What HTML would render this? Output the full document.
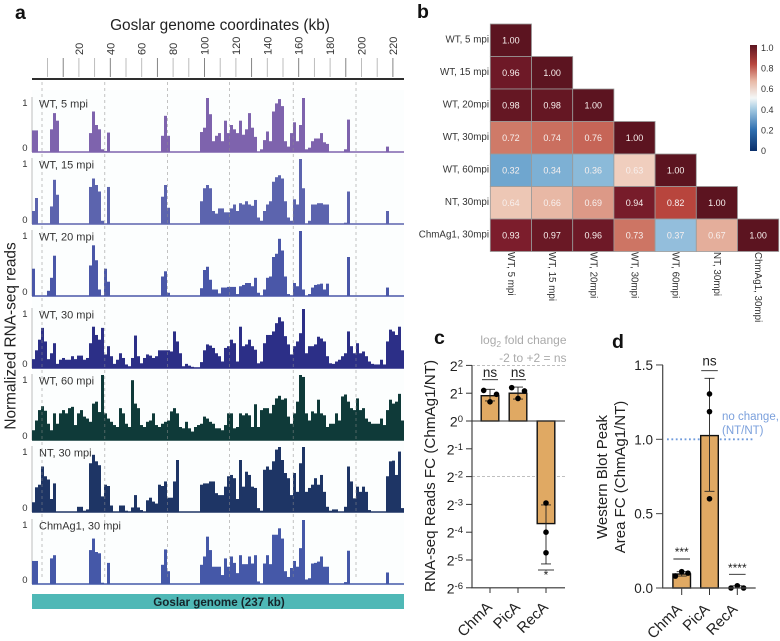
<!DOCTYPE html>
<html>
<head>
<meta charset="utf-8">
<title>Goslar genome RNA-seq figure</title>
<style>
html,body{margin:0;padding:0;background:#fff;width:780px;height:641px;overflow:hidden}
svg{display:block;font-family:"Liberation Sans",Arial,sans-serif;filter:blur(0.3px)}
</style>
</head>
<body>
<svg id="fig" width="780" height="641" viewBox="0 0 780 641" xmlns="http://www.w3.org/2000/svg">
  <rect x="0" y="0" width="780" height="641" fill="#ffffff"/>
  <rect x="32" y="90" width="372" height="496" fill="#fcfefe"/>

  <text x="15" y="19" font-size="19.5" font-weight="bold" fill="#111">a</text>
  <text x="417" y="18" font-size="19.5" font-weight="bold" fill="#111">b</text>
  <text x="434" y="344" font-size="19.5" font-weight="bold" fill="#111">c</text>
  <text x="612" y="348" font-size="19.5" font-weight="bold" fill="#111">d</text>

  <text x="220" y="30" font-size="15.4" text-anchor="middle" fill="#222">Goslar genome coordinates (kb)</text>
  <text transform="translate(15.5,336) rotate(-90)" font-size="15.4" text-anchor="middle" fill="#222">Normalized RNA-seq reads</text>
  <line x1="32" x2="404" y1="79" y2="79" stroke="#111" stroke-width="1.7"/>
  <g id="ruler"></g>
  <g id="tracks"></g>
  <rect x="32" y="594" width="372" height="15" fill="#4fb8b6"/>
  <text x="219" y="606" font-size="11.6" font-weight="bold" text-anchor="middle" fill="#15242a">Goslar genome (237 kb)</text>

  <g id="heatmap"></g>
  <defs>
    <linearGradient id="cbar" x1="0" y1="1" x2="0" y2="0">
      <stop offset="0" stop-color="#0a2f6a"/>
      <stop offset="0.2" stop-color="#2f6fb0"/>
      <stop offset="0.4" stop-color="#a8cde3"/>
      <stop offset="0.5" stop-color="#f4f7f7"/>
      <stop offset="0.66" stop-color="#e8b8a5"/>
      <stop offset="0.82" stop-color="#b8453d"/>
      <stop offset="1" stop-color="#5c1420"/>
    </linearGradient>
  </defs>
  <rect x="750" y="45" width="7" height="106" fill="url(#cbar)"/>
  <g id="colorbar-ticks"></g>

  <text x="566.5" y="344" font-size="12" text-anchor="end" fill="#aaaaaa">log<tspan font-size="8.5" dy="3">2</tspan><tspan dy="-3"> fold change</tspan></text>
  <text x="566.5" y="362" font-size="12" text-anchor="end" fill="#aaaaaa">-2 to +2 = ns</text>
  <text transform="translate(435,476) rotate(-90)" font-size="15.2" text-anchor="middle" fill="#222">RNA-seq Reads FC (ChmAg1/NT)</text>
  <g id="panel-c"></g>

  <text transform="translate(607,477) rotate(-90)" font-size="15" text-anchor="middle" fill="#222">Western Blot Peak</text>
  <text transform="translate(625,477) rotate(-90)" font-size="15" text-anchor="middle" fill="#222">Area FC (ChmAg1/NT)</text>
  <text x="722" y="420" font-size="11.5" fill="#7ba0dc">no change,</text>
  <text x="722" y="434" font-size="11.5" fill="#7ba0dc">(NT/NT)</text>
  <g id="panel-d"></g>
</svg>

<script>
// ---------- Panel a data (percent of max per 3-px genome bin) ----------
const trackNames = ["WT, 5 mpi","WT, 15 mpi","WT, 20 mpi","WT, 30 mpi","WT, 60 mpi","NT, 30 mpi","ChmAg1, 30 mpi"];
const wt5 = [40,40,0,0,0,0,42,72,58,0, 0,0,0,0,0,0,0,0,0,35, 75,50,42,5,2,36,0,0,0,0, 0,0,0,0,0,0,0,0,0,0, 0,0,0,30,67,30,0,0,0,0, 0,0,0,0,0,0,37,45,100,70, 20,30,35,20,58,35,50,42,35,58, 32,42,72,45,28,0,5,22,38,20, 75,90,98,85,20,10,35,55,20,50, 100,5,8,20,25,25,35,18,15,0, 0,0,0,0,5,60,0,0,0,0, 0,0,0,0,0,0,0,0,10,0, 0,0,0,0];
const wt15 = [20,40,0,0,0,0,27,68,45,0, 0,0,0,0,0,0,0,0,0,57, 70,60,50,5,0,57,0,0,0,0, 0,0,0,0,0,0,0,0,0,0, 0,0,0,42,60,25,0,0,0,0, 0,0,0,0,0,0,35,55,60,55, 20,16,24,24,18,18,24,30,20,32, 30,35,30,28,37,10,5,20,30,35, 65,72,75,70,35,10,5,38,30,100, 55,0,5,30,30,32,32,30,30,0, 0,0,0,0,2,50,0,0,0,0, 0,0,0,0,0,0,0,0,20,0, 0,0,0,0];
const wt20 = [42,0,0,0,0,8,28,62,0,0, 0,0,0,0,0,0,0,0,0,47, 78,55,10,0,42,22,0,0,0,0, 0,0,0,0,0,0,0,0,0,0, 0,0,0,30,38,5,0,0,0,0, 0,0,0,0,0,0,12,40,45,25, 10,10,4,13,13,14,14,14,3,15, 17,20,20,15,28,5,0,10,28,30, 60,65,88,70,30,3,0,20,15,100, 10,0,3,13,17,18,19,10,19,0, 0,0,0,0,0,60,0,0,0,0, 0,0,0,0,0,0,0,0,13,0, 0,0,0,0];
const wt30 = [15,30,48,68,45,15,25,42,7,14, 17,14,14,20,15,21,21,14,17,42, 70,56,48,68,23,37,20,7,14,25, 17,6,3,17,55,20,8,17,23,21, 17,20,30,30,30,30,28,62,45,25, 3,7,4,2,1,1,10,30,40,38, 34,25,20,11,34,37,48,42,11,70, 37,40,48,37,31,8,11,42,56,56, 62,76,86,79,54,40,23,37,45,59, 100,25,37,37,40,53,50,45,20,8, 7,11,14,20,25,62,37,25,42,25, 28,20,11,7,6,6,14,6,45,65, 62,56,70,30];
const wt60 = [15,30,46,52,45,25,15,41,25,41, 46,41,49,51,23,41,46,36,33,28, 56,59,43,100,41,33,28,23,20,49, 41,25,20,92,56,49,23,20,28,30, 41,23,20,25,28,30,44,49,41,20, 18,28,18,13,20,23,25,36,33,28, 25,18,18,15,23,41,41,18,20,41, 38,41,38,20,55,20,46,49,49,41, 54,64,68,62,64,36,25,41,59,100, 97,41,30,44,41,62,41,38,20,25, 25,41,30,67,70,59,49,46,64,46, 49,33,28,25,25,25,33,23,46,62, 56,59,71,30];
const nt30 = [15,38,42,70,55,50,20,44,0,0, 0,0,0,0,0,8,8,2,4,75, 88,78,72,24,42,40,10,0,0,10, 10,2,0,7,26,7,3,0,18,22, 16,13,42,40,47,22,22,47,80,0, 0,0,0,0,0,0,42,44,44,47, 47,29,26,26,39,55,57,52,20,80, 39,62,57,39,37,6,2,65,70,65, 78,96,100,80,60,52,26,60,31,75, 100,31,37,42,52,42,57,31,8,2, 4,4,0,0,8,70,47,21,39,31, 39,31,3,0,0,0,0,0,55,78, 79,57,93,6];
const chm30 = [36,36,0,0,0,0,40,45,0,0, 0,0,0,0,0,0,0,0,0,53, 71,50,48,2,0,33,0,0,0,0, 0,0,0,0,0,0,0,0,0,0, 0,0,0,30,54,20,0,0,0,0, 0,0,0,0,0,0,30,43,74,53, 27,27,27,14,40,27,43,33,17,45, 31,31,43,32,45,4,0,32,45,31, 77,77,87,71,20,11,25,36,27,56, 100,7,9,32,33,35,43,27,27,0, 0,0,0,0,3,52,0,0,0,0, 0,0,0,0,0,0,0,0,18,0, 0,0,0,0];
const trackSeries = [wt5,wt15,wt20,wt30,wt60,nt30,chm30];
const rulerTicksKb = [0,10,20,30,40,50,60,70,80,90,100,110,120,130,140,150,160,170,180,190,200,210,220];
const rulerLabelsKb = [20,40,60,80,100,120,140,160,180,200,220];
const guideKb = [-3.5,36.5,76.5,116,156.5,196.5];

// ---------- Panel b data ----------
const heatLabelsRow = ["WT, 5 mpi","WT, 15 mpi","WT, 20mpi","WT, 30mpi","WT, 60mpi","NT, 30mpi","ChmAg1, 30mpi"];
const heatLabelsCol = ["WT, 5 mpi","WT, 15 mpi","WT, 20mpi","WT, 30mpi","WT, 60mpi","NT, 30mpi","ChmAg1, 30mpi"];
const heatValues = [
  [1.00],
  [0.96,1.00],
  [0.98,0.98,1.00],
  [0.72,0.74,0.76,1.00],
  [0.32,0.34,0.36,0.63,1.00],
  [0.64,0.66,0.69,0.94,0.82,1.00],
  [0.93,0.97,0.96,0.73,0.37,0.67,1.00]
];
const colorbarTicks = [1.0,0.8,0.6,0.4,0.2,0];
const colorbarTickLabels = ["1.0","0.8","0.6","0.4","0.2","0"];

// ---------- Panel c data (log2 fold change) ----------
const cCategories = ["ChmA","PicA","RecA"];
const cMeans = [0.91,1.0,-3.69];
const cErrHigh = [1.14,1.22,-3.02];
const cErrLow = [0.72,0.79,-5.14];
const cPoints = [[1.1,0.69,0.96],[1.2,0.81,1.08],[-2.95,-4.0,-4.74]];
const cTickExponents = [2,1,0,-1,-2,-3,-4,-5,-6];
const cDashedAt = [2,-2];
const cSignificance = ["ns","ns","*"];

// ---------- Panel d data ----------
const dCategories = ["ChmA","PicA","RecA"];
const dMeans = [0.094,1.025,0.005];
const dErrHigh = [0.11,1.41,0.015];
const dErrLow = [0.08,0.65,0];
const dPoints = [[0.08,0.11,0.10],[1.305,1.186,0.6],[0,0.015,0]];
const dTicks = [0,0.5,1.0,1.5];
const dTickLabels = ["0.0","0.5","1.0","1.5"];
const dSignificance = ["***","ns","****"];
const dReference = 1.0;

// ---------- helpers ----------
const NS = "http://www.w3.org/2000/svg";
function mk(tag, attrs, parent, text){
  const e = document.createElementNS(NS, tag);
  for (const k in attrs) e.setAttribute(k, attrs[k]);
  if (text !== undefined) e.textContent = text;
  parent.appendChild(e);
  return e;
}

// ---------- Panel a ----------
const trackTop = [98,159,231,309,375,447,520];
const trackBase = [152,224,296,368,440,512,584];
const trackColor = ["#7e63ad","#5c64ae","#4a57a8","#2c2f87","#0f3a39","#1e3565","#4558a8"];
const binW = 3, trackX0 = 32;
const xBin = i => trackX0 + i * binW;
const xKb = kb => 47.5 + 1.57 * kb;
const yTrack = (t, pct) => trackBase[t] - (trackBase[t] - trackTop[t]) * pct / 100;

const ruler = document.getElementById("ruler");
rulerTicksKb.forEach((kb, i) => {
  const t = mk("line", {x1:xKb(kb), x2:xKb(kb), y1:58, y2:77, stroke:(i%3===1?"#777":"#b5b5b5"), "stroke-width":0.9}, ruler);
  
  
});
rulerLabelsKb.forEach(kb => {
  const t = mk("text", {transform:`translate(${xKb(kb)+4},55) rotate(-90)`, "font-size":11, fill:"#333"}, ruler, String(kb));
  
  
});

const tracks = document.getElementById("tracks");
trackSeries.forEach((series, t) => {
  const g = mk("g", {}, tracks);
  
  
  const axis = mk("line", {x1:32, x2:32, y1:trackTop[t]-1, y2:trackBase[t], stroke:"#bdbdbd", "stroke-width":1}, g);
  
  
  series.forEach((v, i) => {
    if (v <= 0) return;
    const y = yTrack(t, v);
    const b = mk("rect", {x:xBin(i), y:y, width:binW, height:trackBase[t]-y, fill:trackColor[t]}, g);
    
    
  });
  const base = mk("line", {x1:32, x2:404, y1:trackBase[t], y2:trackBase[t], stroke:trackColor[t], "stroke-width":1.6}, g);
  
  
  const lab = mk("text", {x:39, y:trackTop[t]+9.5, "font-size":11, fill:"#333"}, g, trackNames[t]);
  
  
  const one = mk("text", {x:27.5, y:trackTop[t]+8, "font-size":9.5, "text-anchor":"end", fill:"#333"}, g, "1");
  
  
  const zero = mk("text", {x:27.5, y:trackBase[t]-1, "font-size":9.5, "text-anchor":"end", fill:"#333"}, g, "0");
  
  
});
guideKb.forEach(kb => {
  const l = mk("line", {x1:xKb(kb), x2:xKb(kb), y1:82, y2:580, stroke:"#8d8d8d", "stroke-width":0.7, "stroke-dasharray":"3 3", opacity:0.75}, tracks);
  
  
});

// ---------- Panel b ----------
const heat = document.getElementById("heatmap");
const hX0 = 490.3, hY0 = 24, hW = 41.2, hH = 32.5;
const hStops = [[0,[10,47,106]],[0.2,[47,111,176]],[0.32,[111,166,207]],[0.4,[168,205,227]],[0.5,[244,247,247]],[0.6,[248,228,214]],[0.66,[232,184,165]],[0.72,[207,122,104]],[0.82,[184,69,61]],[0.93,[124,29,44]],[1,[92,20,32]]];
function heatColor(v){
  for (let i = 1; i < hStops.length; i++){
    if (v <= hStops[i][0]){
      const a = hStops[i-1], b = hStops[i], f = (v-a[0])/(b[0]-a[0]);
      return "rgb(" + a[1].map((c,k)=>Math.round(c+(b[1][k]-c)*f)).join(",") + ")";
    }
  }
  return "rgb(92,20,32)";
}
heatValues.forEach((row, r) => {
  row.forEach((v, c) => {
    const cell = mk("rect", {x:hX0+c*hW, y:hY0+r*hH, width:hW, height:hH, fill:heatColor(v), stroke:"#9a9a9a", "stroke-width":0.8}, heat);
    
    
    const t = mk("text", {x:hX0+(c+0.5)*hW, y:hY0+(r+0.5)*hH+3.2, "font-size":9, "text-anchor":"middle", fill:"#f8f0ee"}, heat, v.toFixed(2));
    
    
  });
});
heatLabelsRow.forEach((s, r) => {
  const t = mk("text", {x:489, y:hY0+(r+0.5)*hH+2, "font-size":9.8, "text-anchor":"end", fill:"#333"}, heat, s);
  
  
});
heatLabelsCol.forEach((s, c) => {
  const t = mk("text", {transform:`translate(${hX0+(c+0.5)*hW-3},252) rotate(90)`, "font-size":9.8, fill:"#333"}, heat, s);
  
  
});
const cbG = document.getElementById("colorbar-ticks");
const yCb = v => 151 - v * 103;
colorbarTicks.forEach((v, i) => {
  const t = mk("text", {x:761, y:yCb(v)+3, "font-size":9, fill:"#333"}, cbG, colorbarTickLabels[i]);
  
  
});

// ---------- Panel c ----------
const pc = document.getElementById("panel-c");
const yC = v => 421 - 27.8 * v;
const xC = i => 490 + 28 * i;
cDashedAt.forEach(v => {
  const l = mk("line", {x1:472, x2:565, y1:yC(v), y2:yC(v), stroke:"#aaa", "stroke-width":0.8, "stroke-dasharray":"3 2"}, pc);
  
  
});
cCategories.forEach((name, i) => {
  const top = Math.max(cMeans[i], 0), bot = Math.min(cMeans[i], 0);
  const bar = mk("rect", {x:xC(i)-8.8, y:yC(top), width:17.6, height:yC(bot)-yC(top), fill:"#e0a963", stroke:"#111", "stroke-width":1.4}, pc);
  
  
  const e = mk("path", {d:`M${xC(i)} ${yC(cErrHigh[i])}V${yC(cErrLow[i])}M${xC(i)-5} ${yC(cErrHigh[i])}h10M${xC(i)-5} ${yC(cErrLow[i])}h10`, stroke:"#222", "stroke-width":0.9, fill:"none"}, pc);
  
  
  const jitter = [-6.3, 0, 6.5];
  cPoints[i].forEach((v, k) => {
    const dx = i === 2 ? 0 : jitter[k];
    const p = mk("circle", {cx:xC(i)+dx, cy:yC(v), r:2.8, fill:"#000"}, pc);
    
    
  });
  const tick = mk("line", {x1:xC(i), x2:xC(i), y1:587.7, y2:593, stroke:"#333", "stroke-width":1}, pc);
  
  
  const lab = mk("text", {transform:`translate(${xC(i)+3},608) rotate(-45)`, "font-size":15, "text-anchor":"end", fill:"#222"}, pc, name);
  
  
  const isUp = cMeans[i] > 0;
  const lineY = isUp ? 379.7 : 570;
  const sl = mk("line", {x1:xC(i)-8, x2:xC(i)+8, y1:lineY, y2:lineY, stroke:"#222", "stroke-width":0.9}, pc);
  
  
  const st = mk("text", {x:xC(i), y:isUp?377:579, "font-size":isUp?13.5:12, "text-anchor":"middle", fill:"#222"}, pc, cSignificance[i]);
  
  
});
cTickExponents.forEach(ex => {
  const tick = mk("line", {x1:466, x2:472, y1:yC(ex), y2:yC(ex), stroke:"#333", "stroke-width":1}, pc);
  
  
  const t = mk("text", {x:463, y:yC(ex)+5.5, "font-size":14, "text-anchor":"end", fill:"#222"}, pc);
  
  
  const base = mk("tspan", {}, t, "2");
  
  
  const sup = mk("tspan", {dy:-4.5, "font-size":9.5}, t, String(ex));
  
  
});
const cAxis = mk("path", {d:`M472 ${yC(2)}V${yC(-6)}H565M472 ${yC(0)}H565`, stroke:"#333", "stroke-width":1.1, fill:"none"}, pc);



// ---------- Panel d ----------
const pd = document.getElementById("panel-d");
const yD = v => 588 - 148.7 * v;
const xD = i => 681.7 + 27.8 * i;
const refLine = mk("line", {x1:667, x2:754, y1:yD(dReference), y2:yD(dReference), stroke:"#6f9bdc", "stroke-width":1.8, "stroke-dasharray":"1.8 2.6"}, pd);


const dSigLineY = [559, 370.7, 574.3];
const dSigTextY = [556, 365.5, 572];
const dJitter = [-6.3, 0, 6.3];
dCategories.forEach((name, i) => {
  if (dMeans[i] > 0.01) {
    const bar = mk("rect", {x:xD(i)-8.8, y:yD(dMeans[i]), width:17.6, height:yD(0)-yD(dMeans[i]), fill:"#e0a963", stroke:"#111", "stroke-width":1.4}, pd);
    
    
  }
  const e = mk("path", {d:`M${xD(i)} ${yD(dErrHigh[i])}V${yD(dErrLow[i])}M${xD(i)-5} ${yD(dErrHigh[i])}h10M${xD(i)-5} ${yD(dErrLow[i])}h10`, stroke:"#222", "stroke-width":0.9, fill:"none"}, pd);
  
  
  dPoints[i].forEach((v, k) => {
    const dx = i === 1 ? 0 : dJitter[k];
    const p = mk("circle", {cx:xD(i)+dx, cy:yD(v), r:2.8, fill:"#000"}, pd);
    
    
  });
  const tick = mk("line", {x1:xD(i), x2:xD(i), y1:588, y2:595, stroke:"#333", "stroke-width":1}, pd);
  
  
  const lab = mk("text", {transform:`translate(${xD(i)+1},610) rotate(-45)`, "font-size":15, "text-anchor":"end", fill:"#222"}, pd, name);
  
  
  const sl = mk("line", {x1:xD(i)-8.3, x2:xD(i)+8.3, y1:dSigLineY[i], y2:dSigLineY[i], stroke:"#222", "stroke-width":0.9}, pd);
  
  
  const st = mk("text", {x:xD(i), y:dSigTextY[i], "font-size":dSignificance[i]==="ns"?13.5:12, "text-anchor":"middle", fill:"#222"}, pd, dSignificance[i]);
  
  
});
dTicks.forEach((v, i) => {
  const tick = mk("line", {x1:656, x2:663, y1:yD(v), y2:yD(v), stroke:"#444", "stroke-width":1}, pd);
  
  
  const t = mk("text", {x:653, y:yD(v)+5, "font-size":13.5, "text-anchor":"end", fill:"#222"}, pd, dTickLabels[i]);
  
  
});
const dAxis = mk("path", {d:`M662.7 ${yD(1.5)}V${yD(0)}H755.7`, stroke:"#444", "stroke-width":1.2, fill:"none"}, pd);


</script>
</body>
</html>
